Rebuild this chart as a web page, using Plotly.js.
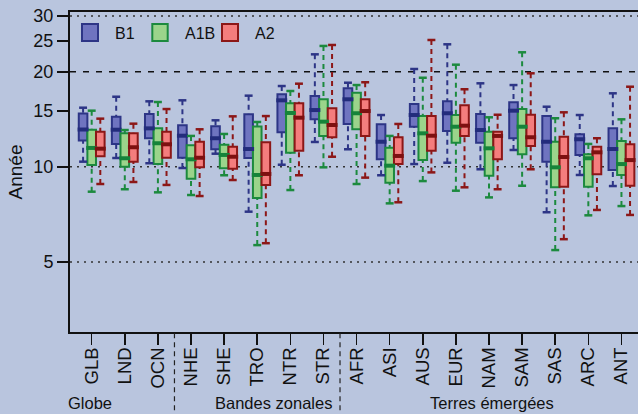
<!DOCTYPE html>
<html><head><meta charset="utf-8">
<script src="https://cdn.plot.ly/plotly-3.0.1.min.js"></script>
<style>html,body{margin:0;padding:0;background:#b9c5de;} #chart{width:638px;height:414px;}</style>
</head><body><div id="chart"></div>
<script>
const categories = ['GLB','LND','OCN','NHE','SHE','TRO','NTR','STR','AFR','ASI','AUS','EUR','NAM','SAM','SAS','ARC','ANT'];
const groupLabels = ['Globe','Bandes zonales','Terres émergées'];
const yTicks = [5, 10, 15, 20, 25, 30];

// B1
const B1_low  = [10.38,10.66,10.26, 9.91,11.00, 7.21,10.15,11.98,11.36, 9.40,10.20,10.30, 9.82,11.30, 7.18, 9.42, 8.69];
const B1_q1   = [12.11,11.81,12.31,10.68,11.36,10.66,12.86,14.13,13.66,10.56,13.39,12.98,11.92,12.31,10.38,10.90, 9.77];
const B1_med  = [13.12,13.10,13.23,12.54,12.31,11.38,16.23,15.12,16.35,12.00,14.58,14.77,13.07,15.05,12.00,12.22,11.38];
const B1_q3   = [14.75,14.40,14.69,13.53,13.43,14.66,16.96,16.75,17.71,13.63,15.80,16.11,14.69,16.00,14.47,12.67,13.23];
const B1_high = [15.38,16.66,16.11,16.23,14.03,16.79,18.01,22.69,18.45,14.58,20.39,24.41,18.37,18.14,15.49,14.58,17.08];
// A1B
const A1B_low  = [ 8.34, 8.49, 8.30, 8.14, 9.40, 5.65, 8.44, 9.96, 8.82, 7.66, 9.01, 8.40, 8.00, 8.71, 5.45, 7.02, 7.51];
const A1B_q1   = [10.13,10.00,10.20, 9.17, 9.89, 7.96,11.08,12.52,13.14, 8.90,10.50,11.92, 9.37,10.95, 8.61, 8.65, 9.42];
const A1B_med  = [11.47,10.64,11.87,10.56,10.90, 9.42,14.80,13.89,14.77,10.08,12.76,13.39,11.44,13.39, 9.96,10.64,10.20];
const A1B_q3   = [13.10,12.76,13.23,11.69,11.74,13.41,15.88,16.35,17.16,11.49,14.47,14.58,12.91,15.23,12.00,10.95,12.07];
const A1B_high = [15.05,13.07,16.03,12.52,12.70,13.86,17.37,24.12,18.14,12.52,19.13,21.04,14.34,23.03,14.24,11.81,14.13];
// A2
const A2_low  = [ 8.82, 8.95, 8.76, 8.08, 9.08, 5.73, 9.40,10.76, 9.24, 7.72, 9.60, 8.61, 8.49, 9.82, 5.90, 7.30, 7.04];
const A2_q1   = [10.79,10.38,10.68, 9.96, 9.86, 8.76,11.24,12.40,12.52,10.20,11.24,12.52,10.56,11.63, 8.65, 9.47, 8.71];
const A2_med  = [11.41,11.53,11.78,10.68,10.76, 9.49,14.30,13.56,15.01,10.82,12.54,13.49,12.52,12.40,10.74,11.11,10.50];
const A2_q3   = [12.91,12.76,12.91,12.00,11.57,11.95,15.88,15.31,16.35,12.40,14.47,15.65,12.91,14.61,12.45,11.57,11.78];
const A2_high = [14.20,13.69,15.23,13.14,14.44,14.47,18.32,24.29,18.51,13.66,25.19,17.59,14.61,19.76,14.87,12.31,17.92];

const series = [
  {name:'B1',  low:B1_low,  q1:B1_q1,  med:B1_med,  q3:B1_q3,  high:B1_high,  fill:'#6f74c0', line:'#2d3586', medc:'#232c7c', off:-0.26},
  {name:'A1B', low:A1B_low, q1:A1B_q1, med:A1B_med, q3:A1B_q3, high:A1B_high, fill:'#9bd48b', line:'#1c8a3e', medc:'#15843a', off:0},
  {name:'A2',  low:A2_low,  q1:A2_q1,  med:A2_med,  q3:A2_q3,  high:A2_high,  fill:'#f47d7d', line:'#8c1717', medc:'#7d1010', off:0.26}
];

const BW = 0.26, CAP = 0.12, MED = 0.165;
const traces = [];
series.forEach(s => {
  const xs = categories.map((c, i) => i + s.off);
  traces.push({
    type:'box', orientation:'v', name:s.name, x:xs,
    q1:s.q1, median:s.med, q3:s.q3, lowerfence:s.q1, upperfence:s.q3,
    width:BW, fillcolor:s.fill, line:{color:s.line, width:2},
    whiskerwidth:0, boxpoints:false, hoverinfo:'skip', showlegend:false
  });
  const wx = [], wy = [], cx = [], cy = [], mx = [], my = [];
  xs.forEach((x, i) => {
    wx.push(x, x, null, x, x, null);
    wy.push(s.high[i], s.q3[i], null, s.low[i], s.q1[i], null);
    cx.push(x - CAP, x + CAP, null, x - CAP, x + CAP, null);
    cy.push(s.high[i], s.high[i], null, s.low[i], s.low[i], null);
    mx.push(x - MED, x + MED, null);
    my.push(s.med[i], s.med[i], null);
  });
  traces.push({type:'scatter', mode:'lines', x:wx, y:wy, line:{color:s.line, width:2, dash:'5px,4px'}, showlegend:false, hoverinfo:'skip'});
  traces.push({type:'scatter', mode:'lines', x:cx, y:cy, line:{color:s.line, width:2.5}, showlegend:false, hoverinfo:'skip'});
  traces.push({type:'scatter', mode:'lines', x:mx, y:my, line:{color:s.medc, width:4}, showlegend:false, hoverinfo:'skip'});
});

const shapes = [];
[5, 10, 30].forEach(v => shapes.push({type:'line', xref:'paper', x0:0, x1:1, yref:'y', y0:v, y1:v, layer:'below', line:{color:'#333', width:1.5, dash:'2px,5px'}}));
shapes.push({type:'line', xref:'paper', x0:0, x1:1, yref:'y', y0:20, y1:20, layer:'below', line:{color:'#111', width:1.5, dash:'6px,7px'}});
[2.5, 7.5].forEach(v => shapes.push({type:'line', xref:'x', x0:v, x1:v, yref:'paper', y0:-0.004, y1:-0.25, line:{color:'#222', width:1.2, dash:'5px,4px'}}));

// legend
const legX = [[0.0211,0.0493,0.0763],[0.1449,0.1720,0.199],[0.2676,0.2958,0.322]];
const annotations = [];
series.forEach((s, k) => {
  shapes.push({type:'rect', xref:'paper', yref:'paper', x0:legX[k][0], x1:legX[k][1], y0:0.909, y1:0.9625, fillcolor:s.fill, line:{color:s.line, width:2}});
  annotations.push({xref:'paper', yref:'paper', x:legX[k][2], y:0.934, xanchor:'left', yanchor:'middle', text:s.name, showarrow:false, font:{size:16, color:'#111'}});
});
const groupX = [-0.05, 5.5, 12.1];
groupLabels.forEach((g, k) => annotations.push({xref:'x', yref:'paper', x:groupX[k], y:-0.222, xanchor:'center', yanchor:'middle', text:g, showarrow:false, font:{size:16.5, color:'#111'}}));

const layout = {
  width:638, height:414,
  margin:{l:70, r:0, t:12, b:82, pad:0},
  paper_bgcolor:'#b9c5de', plot_bgcolor:'#b9c5de',
  showlegend:false,
  font:{family:'Liberation Sans, Arial, Helvetica, sans-serif', color:'#111', size:18},
  boxmode:'overlay',
  xaxis:{range:[-0.655, 16.5], tickmode:'array', tickvals:categories.map((c, i) => i), ticktext:categories,
    tickangle:-90, ticks:'outside', ticklen:11, tickwidth:1.5, tickcolor:'#111', ticklabelstandoff:-5,
    showline:true, mirror:true, linecolor:'#111', linewidth:2, showgrid:false, zeroline:false, tickfont:{size:18.5}},
  yaxis:{type:'log', range:[Math.log10(3), 1.4898], tickmode:'array', tickvals:yTicks, ticktext:yTicks.map(String),
    ticks:'outside', ticklen:11, tickwidth:2, tickcolor:'#111',
    showline:true, linecolor:'#111', linewidth:2, showgrid:false, zeroline:false, tickfont:{size:18},
    title:{text:'Année', font:{size:19}, standoff:6}},
  shapes:shapes,
  annotations:annotations
};
Plotly.newPlot('chart', traces, layout, {staticPlot:true, displayModeBar:false});
</script></body></html>
